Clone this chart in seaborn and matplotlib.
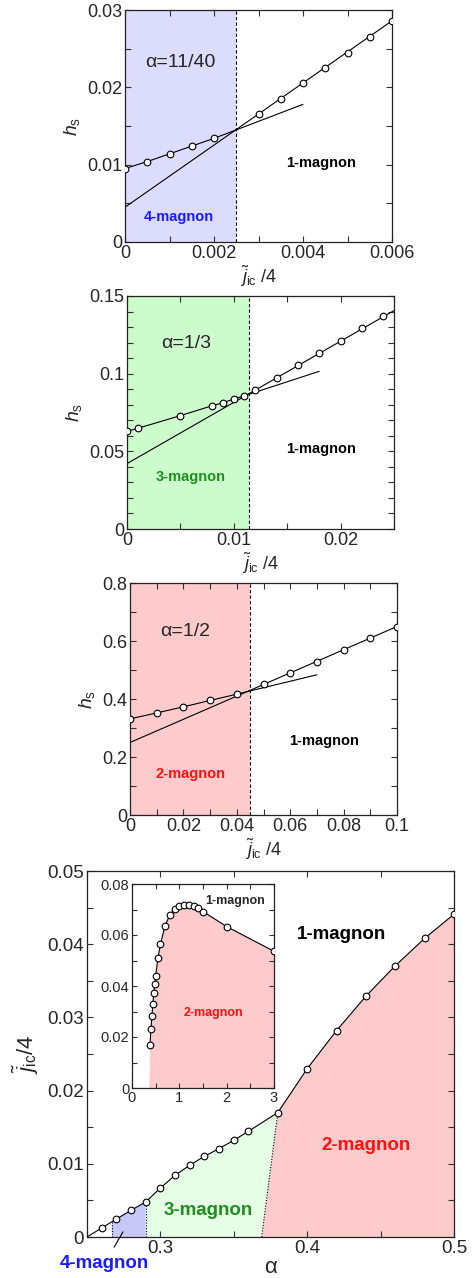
import numpy as np
import matplotlib
matplotlib.use("Agg")
import matplotlib.pyplot as plt
from matplotlib.ticker import MultipleLocator, FuncFormatter
import seaborn as sns

# --- style ---
sns.set_style("ticks")
plt.rcParams["font.family"] = ["Liberation Sans", "DejaVu Sans"]
plt.rcParams["mathtext.fontset"] = "custom"
plt.rcParams["mathtext.rm"] = "Liberation Sans"
plt.rcParams["mathtext.it"] = "Liberation Sans:italic"
plt.rcParams["mathtext.bf"] = "Liberation Sans:bold"

BLUE_FILL = "#dcdcfc"
GREEN_FILL = "#ccfccc"
PINK_FILL = "#fdcbcb"
BLUE_FILL4 = "#c8c8f8"
GREEN_FILL4 = "#e6fde6"
BLUE_TXT = "#1a1aff"
GREEN_TXT = "#1f8f1f"
RED_TXT = "#ff1010"

# --- data: alpha = 11/40 ---
a1_x4 = [0.0, 0.0005, 0.001, 0.0015, 0.002]
a1_y4 = [0.0095, 0.0104, 0.0114, 0.0124, 0.0134]
a1_x1 = [0.003, 0.0035, 0.004, 0.0045, 0.005, 0.0055, 0.006]
a1_y1 = [0.0165, 0.0185, 0.0205, 0.0225, 0.0245, 0.0265, 0.0286]
a1_fit4_x = [0.002, 0.004]
a1_fit4_y = [0.0134, 0.0178]
a1_fit1_x = [0.0, 0.006]
a1_fit1_y = [0.0045, 0.0286]
a1_bound = 0.0025

# --- data: alpha = 1/3 ---
a2_x3 = [0.0, 0.001, 0.005, 0.008, 0.009, 0.010, 0.011]
a2_y3 = [0.0629, 0.0648, 0.0730, 0.0794, 0.0813, 0.0837, 0.0858]
a2_x1 = [0.012, 0.014, 0.016, 0.018, 0.020, 0.022, 0.024]
a2_y1 = [0.0895, 0.0974, 0.1054, 0.1133, 0.1212, 0.1294, 0.1373]
a2_fit3_x = [0.011, 0.018]
a2_fit3_y = [0.0858, 0.1015]
a2_fit1_x = [0.0, 0.025]
a2_fit1_y = [0.0421, 0.1406]
a2_bound = 0.0114

# --- data: alpha = 1/2 ---
a3_x2 = [0.0, 0.01, 0.02, 0.03, 0.04]
a3_y2 = [0.3315, 0.352, 0.373, 0.395, 0.4167]
a3_x1 = [0.05, 0.06, 0.07, 0.08, 0.09, 0.1]
a3_y1 = [0.451, 0.490, 0.529, 0.570, 0.609, 0.650]
a3_fit2_x = [0.04, 0.07]
a3_fit2_y = [0.4167, 0.4835]
a3_fit1_x = [0.0, 0.1]
a3_fit1_y = [0.25, 0.65]
a3_bound = 0.045

# --- data: phase diagram ---
pd_alpha = [0.25, 0.26, 0.27, 0.28, 0.29, 0.30, 0.31, 0.32, 0.33, 0.34, 0.35,
            0.36, 0.38, 0.40, 0.42, 0.44, 0.46, 0.48, 0.50]
pd_j = [0.0, 0.00123, 0.00246, 0.00365, 0.00479, 0.0067, 0.00843, 0.0098,
        0.01103, 0.01208, 0.01322, 0.01445, 0.0170, 0.0230, 0.0282, 0.0329,
        0.03706, 0.0408, 0.0441]
b41 = 0.267          # left edge of 4-magnon region
b43 = 0.29           # 4-magnon / 3-magnon boundary
b32_lo = 0.369       # 3-magnon / 2-magnon boundary at j=0
b32_hi = 0.38        # 3-magnon / 2-magnon boundary at the curve

# inset (wide alpha range)
in_alpha = [0.38, 0.40, 0.42, 0.44, 0.46, 0.48, 0.50, 0.55, 0.60, 0.70, 0.80,
            0.90, 1.0, 1.1, 1.2, 1.3, 1.4, 1.5, 2.0, 3.0]
in_j = [0.0170, 0.0230, 0.0282, 0.0329, 0.0371, 0.0408, 0.0441, 0.0511,
        0.0564, 0.0637, 0.0679, 0.0702, 0.0715, 0.0719, 0.0717, 0.0713,
        0.0705, 0.0692, 0.0633, 0.0536]

W, H = 472, 1278
fig = plt.figure(figsize=(W / 100, H / 100), dpi=100)


def rect(l, t, r, b):
    return [l / W, 1 - b / H, (r - l) / W, (b - t) / H]


fmt = FuncFormatter(lambda v, p: f"{round(v, 8):g}")
LW = 0.8
mk = dict(marker="o", markersize=4.8, markerfacecolor="white",
          markeredgecolor="black", markeredgewidth=0.8, color="black", lw=LW)


def style_axes(ax, xmaj, xmin, ymaj, ymin, size=13, mlen=4.0):
    ax.xaxis.set_major_locator(MultipleLocator(xmaj))
    ax.xaxis.set_minor_locator(MultipleLocator(xmin))
    ax.yaxis.set_major_locator(MultipleLocator(ymaj))
    ax.yaxis.set_minor_locator(MultipleLocator(ymin))
    ax.xaxis.set_major_formatter(fmt)
    ax.yaxis.set_major_formatter(fmt)
    ax.tick_params(which="both", direction="in", top=True, right=True,
                   width=0.8, labelsize=size, pad=2, color="#333333")
    ax.tick_params(which="major", length=mlen)
    ax.tick_params(which="minor", length=mlen)
    for s in ax.spines.values():
        s.set_linewidth(0.9)
        s.set_color("#222222")


def line(ax, x, y, **kw):
    sns.lineplot(x=x, y=y, ax=ax, sort=False, estimator=None, errorbar=None, **kw)


def hs_panel(box, xlim, ylim, ticks, bound, fill, pts_lo, pts_hi, fit_lo, fit_hi,
             label, lo_txt, lo_col, txt_pos):
    ax = fig.add_axes(rect(*box))
    ax.axvspan(xlim[0], bound, color=fill, lw=0, zorder=0)
    ax.axvline(bound, color="black", ls=(0, (3, 2)), lw=0.8, zorder=1)
    line(ax, fit_lo[0], fit_lo[1], color="black", lw=LW, zorder=2)
    line(ax, fit_hi[0], fit_hi[1], color="black", lw=LW, zorder=2)
    line(ax, pts_lo[0], pts_lo[1], zorder=3, **mk)
    line(ax, pts_hi[0], pts_hi[1], zorder=3, **{**mk, "lw": 0})
    ax.set_xlim(*xlim)
    ax.set_ylim(*ylim)
    style_axes(ax, *ticks)
    ax.set_xlabel(r"$\tilde{j}_{\mathrm{ic}}$ /4", fontsize=13, labelpad=1)
    ax.set_ylabel(r"$h_{\mathrm{s}}$", fontsize=14, labelpad=4)
    ax.text(*txt_pos[0], label, fontsize=14, ha="center", va="center")
    ax.text(*txt_pos[1], lo_txt, fontsize=10.5, fontweight="bold", color=lo_col,
            ha="center", va="center")
    ax.text(*txt_pos[2], "1-magnon", fontsize=10.5, fontweight="bold",
            color="black", ha="center", va="center")
    return ax


hs_panel((125, 10, 392, 242), (0, 0.006), (0, 0.03),
         (0.002, 0.001, 0.01, 0.005), a1_bound, BLUE_FILL,
         (a1_x4, a1_y4), (a1_x1, a1_y1), (a1_fit4_x, a1_fit4_y),
         (a1_fit1_x, a1_fit1_y), "α=11/40", "4-magnon", BLUE_TXT,
         [(0.00124, 0.0232), (0.00122, 0.0032), (0.0044, 0.0102)])

hs_panel((127, 296, 394, 529), (0, 0.025), (0, 0.15),
         (0.01, 0.005, 0.05, 0.01), a2_bound, GREEN_FILL,
         (a2_x3, a2_y3), (a2_x1, a2_y1), (a2_fit3_x, a2_fit3_y),
         (a2_fit1_x, a2_fit1_y), "α=1/3", "3-magnon", GREEN_TXT,
         [(0.0055, 0.1195), (0.0060, 0.0333), (0.0182, 0.0513)])

hs_panel((130, 583, 397, 815), (0, 0.1), (0, 0.8),
         (0.02, 0.01, 0.2, 0.1), a3_bound, PINK_FILL,
         (a3_x2, a3_y2), (a3_x1, a3_y1), (a3_fit2_x, a3_fit2_y),
         (a3_fit1_x, a3_fit1_y), "α=1/2", "2-magnon", RED_TXT,
         [(0.0207, 0.633), (0.0226, 0.14), (0.0725, 0.256)])

# --- phase diagram ---
ax = fig.add_axes(rect(87, 871, 454, 1237))
pa = np.array(pd_alpha)
pj = np.array(pd_j)
j41 = np.interp(b41, pa, pj)
j43 = np.interp(b43, pa, pj)
j32 = np.interp(b32_hi, pa, pj)

m4 = (pa > b41) & (pa < b43)
ax.fill(np.r_[b41, pa[m4], b43, b43, b41], np.r_[j41, pj[m4], j43, 0, 0],
        color=BLUE_FILL4, lw=0, zorder=0)
m3 = (pa > b43) & (pa < b32_hi)
ax.fill(np.r_[b43, pa[m3], b32_hi, b32_lo, b43], np.r_[j43, pj[m3], j32, 0, 0],
        color=GREEN_FILL4, lw=0, zorder=0)
m2 = pa > b32_hi
ax.fill(np.r_[b32_lo, b32_hi, pa[m2], pa[-1]], np.r_[0, j32, pj[m2], 0],
        color=PINK_FILL, lw=0, zorder=0)

dot = dict(color="black", ls=(0, (1, 1.5)), lw=0.8, zorder=1)
line(ax, [b41, b41], [0, j41], **dot)
line(ax, [b43, b43], [0, j43], **dot)
line(ax, [b32_lo, b32_hi], [0, j32], **dot)
line(ax, pd_alpha, pd_j, color="black", lw=LW, zorder=2)
line(ax, pd_alpha[1:], pd_j[1:], zorder=3, **{**mk, "lw": 0})

ax.set_xlim(0.25, 0.5)
ax.set_ylim(0, 0.05)
style_axes(ax, 0.1, 0.05, 0.01, 0.005, size=13.5)
ax.set_xlabel("α", fontsize=16, labelpad=0)
ax.set_ylabel(r"$\tilde{j}_{\mathrm{ic}}$/4", fontsize=16, labelpad=5)

big = dict(fontsize=13.5, fontweight="bold", ha="center", va="center")
ax.text(0.4234, 0.0413, "1-magnon", color="black", **big)
ax.text(0.44, 0.0125, "2-magnon", color=RED_TXT, **big)
ax.text(0.3325, 0.00365, "3-magnon", color=GREEN_TXT, **big)
ax.annotate("4-magnon", xy=(0.2745, 0.0007), xytext=(0.262, -0.00365),
            color=BLUE_TXT, annotation_clip=False,
            arrowprops=dict(arrowstyle="-", lw=0.8, color="black",
                            shrinkA=4, shrinkB=0), **big)

# --- inset ---
axi = fig.add_axes(rect(132, 884, 274, 1088))
ia = np.array(in_alpha)
ij = np.array(in_j)
axi.fill(np.r_[b32_lo, ia, ia[-1]], np.r_[0, ij, 0], color=PINK_FILL, lw=0, zorder=0)
line(axi, in_alpha, in_j, zorder=3, **mk)
axi.set_xlim(0, 3)
axi.set_ylim(0, 0.08)
style_axes(axi, 1, 0.5, 0.02, 0.01, size=10.5, mlen=3.5)
axi.text(2.18, 0.0734, "1-magnon", fontsize=9, fontweight="bold",
         ha="center", va="center")
axi.text(1.72, 0.0295, "2-magnon", fontsize=9, fontweight="bold",
         color=RED_TXT, ha="center", va="center")

fig.savefig("out.png", dpi=100)
